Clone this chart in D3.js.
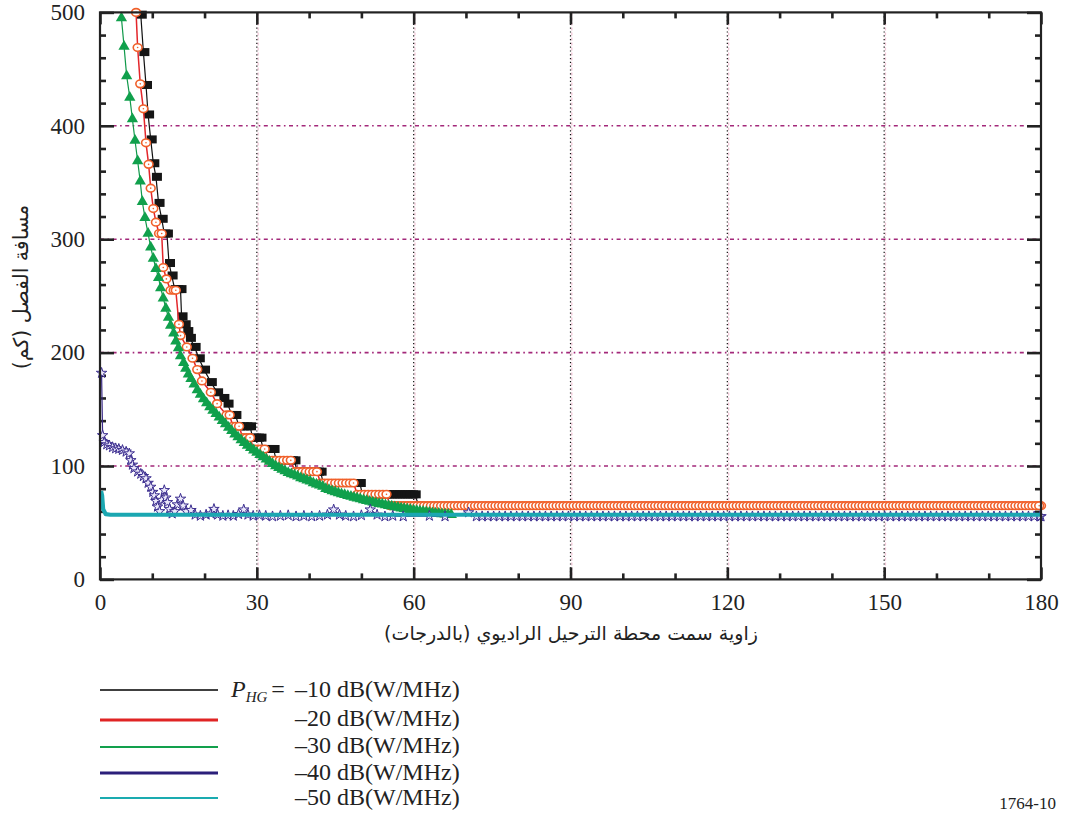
<!DOCTYPE html>
<html><head><meta charset="utf-8">
<script src="https://cdn.jsdelivr.net/npm/d3@7"></script>
<style>body{margin:0;background:#fff} svg{display:block}</style>
</head><body>
<svg id="c" width="1067" height="817"></svg>
<script>
// ---------------- DATA ----------------
const xTicks = [0, 30, 60, 90, 120, 150, 180];
const xMinorTicks = [10, 20, 40, 50, 70, 80, 100, 110, 130, 140, 160, 170];
const yTicks = [0, 100, 200, 300, 400, 500];
const yMinorTicks = [20, 40, 60, 80, 120, 140, 160, 180, 220, 240, 260, 280, 320, 340, 360, 380, 420, 440, 460, 480];
const xGridValues = [30, 60, 90, 120, 150];
const yGridValues = [100, 200, 300, 400];

const xTitle = "زاوية سمت محطة الترحيل الراديوي (بالدرجات)";
const yTitle = "مسافة الفصل (كم)";
const legendLabels = ["–10 dB(W/MHz)", "–20 dB(W/MHz)", "–30 dB(W/MHz)", "–40 dB(W/MHz)", "–50 dB(W/MHz)"];
const figureId = "1764-10";

// P_HG = -10 dB(W/MHz)  [angle (deg), separation distance (km)]
const seriesM10 = [
  [7.8,498],[8.3,465],[8.8,436],[9.2,410],[9.7,388],[10.2,367],[10.7,355],[11.2,332],[11.8,318],
  [12.3,305],[12.8,305],[13.2,279],[13.7,268],[14.3,256],[14.8,256],[15.4,256],[15.6,232],[16.2,225],
  [16.7,219],[17.2,213],[18.1,205],[18.9,195],[19.9,185],[21.2,174],[22.4,165],[23.6,160],[24.4,155],
  [25.2,145],[25.9,145],[26.6,135],[27.3,135],[28,135],[28.7,135],[29.2,125],[29.7,125],[30.2,125],
  [30.7,125],[31.2,115],[31.7,115],[32.2,115],[32.7,115],[33.2,115],[33.7,105],[34.2,105],[34.7,105],
  [35.2,105],[35.7,105],[36.2,105],[36.7,105],[37.2,105],[37.7,95],[38.2,95],[38.7,95],[39.2,95],
  [39.7,95],[40.2,95],[40.7,95],[41.2,95],[41.7,95],[42.2,95],[42.7,85],[43.2,85],[43.7,85],[44.2,85],
  [44.7,85],[45.2,85],[45.7,85],[46.2,85],[46.7,85],[47.2,85],[47.7,85],[48.2,85],[48.7,85],[49.2,85],
  [49.7,85],[50.2,75],[50.7,75],[51.2,75],[51.7,75],[52.2,75],[52.7,75],[53.2,75],[53.7,75],[54.2,75],
  [54.7,75],[55.2,75],[55.7,75],[56.2,75],[56.7,75],[57.2,75],[57.7,75],[58.2,75],[58.7,75],[59.2,75],
  [59.7,75],[60.2,75],[61,65],[180,65]
];
// P_HG = -20 dB(W/MHz)
const seriesM20 = [
  [6.9,500],[7.2,469],[7.7,437],[8.3,415],[8.8,385],[9.3,366],[9.7,345],[10.2,327],[10.7,315],
  [11.3,305],[11.8,305],[12.1,275],[12.7,265],[13.5,255],[14.1,255],[14.5,255],[15.1,225],[15.4,215],
  [16.6,205],[17.7,195],[18.6,185],[19.5,175],[21.2,165],[22.4,155],[24.2,145],[24.8,145],[25.4,135],
  [26,135],[26.6,135],[27.3,125],[28,125],[28.7,125],[29.4,115],[30.1,115],[30.8,115],[31.5,115],
  [32.3,105],[33,105],[33.7,105],[34.4,105],[35.1,105],[35.8,105],[36.5,105],[37.3,95],[38,95],
  [38.7,95],[39.4,95],[40.1,95],[40.8,95],[41.5,95],[42.2,85],[42.9,85],[43.6,85],[44.3,85],[45,85],
  [45.7,85],[46.4,85],[47.1,85],[47.8,85],[48.5,85],[49.2,75],[49.9,75],[50.6,75],[51.3,75],[52,75],
  [52.7,75],[53.4,75],[54.1,75],[54.8,75],[55.5,65],[180,65]
];
// P_HG = -30 dB(W/MHz)
const seriesM30 = [
  [4.1,495],[4.6,470],[5.1,444],[5.7,425],[6.2,406],[6.7,387],[7.2,369],[7.7,351],[8.1,333],[8.6,319],
  [9.2,305],[9.7,293],[10.2,283],[10.7,274],[11.2,266],[11.6,257],[12.1,248],[12.6,239],[13.1,231],
  [13.5,224],[14.1,217],[14.5,210],[15,204],[15.4,197],[16,191],[16.4,186],[16.9,181],[17.4,177],
  [18,172],[18.6,167],[19.2,163],[19.8,159],[20.4,155.5],[21,152],[21.6,149],[22.2,146],[22.8,143],
  [23.4,140],[24,137],[24.6,134],[25.2,131],[25.8,128],[26.4,125.5],[27,123],[27.6,120.5],[28.2,118],
  [28.8,116],[29.4,114],[30,112],[30.6,110],[31.2,108],[31.8,106],[32.4,104],[33,102],[33.6,100],
  [34.2,98.5],[34.8,97],[35.4,95.5],[36,94],[36.6,93],[37.2,92],[37.8,91],[38.4,89.5],[39,88.5],
  [39.6,87.5],[40.2,86.5],[40.8,85],[41.4,84],[42,83],[42.6,82],[43.2,80],[43.8,79],[44.4,78],[45,77],
  [45.6,76.2],[46.2,75.4],[46.8,74.6],[47.4,73.8],[48,73],[48.6,72.3],[49.2,71.6],[49.8,70.8],[50.4,70],
  [51,69.3],[51.6,68.6],[52.2,68],[52.8,67.4],[53.4,66.8],[54,66.2],[54.6,65.6],[55.2,65],[55.8,64.4],
  [56.4,63.8],[57,63.3],[57.6,62.8],[58.2,62.3],[58.8,61.8],[59.4,61.4],[60,61],[60.6,60.6],[61.2,60.2],
  [61.8,59.8],[62.4,59.4],[63,59],[63.6,58.6],[64.2,58.3],[64.8,58],[65.4,57.7],[66,57.4],[66.6,57.2],
  [67.2,57],[180,57]
];
// P_HG = -40 dB(W/MHz)
const seriesM40 = [
  [0.3,182],[0.5,127],[0.8,121],[1.3,119],[1.8,118],[2.4,116.5],[3,115.5],[3.6,115],[4.3,114],[5,112.5],
  [5.6,111],[5.9,105],[6.2,101],[6.5,98],[7.2,95],[7.8,93],[8.3,91],[8.8,89],[9.2,85],[9.7,81.5],
  [10.1,77],[10.4,74],[10.7,69],[11,64],[11.4,60],[11.8,70],[12.3,78.6],[12.6,72],[12.9,68],[13.3,62],
  [13.8,58],[14.3,60],[14.8,66],[15.4,71],[15.9,65],[16.5,60],[17.4,61],[18.2,57],[19.2,56],[20.3,57],
  [21.2,58],[21.8,62],[22.5,57],[23.5,56],[24.5,56.5],[25.5,56],[26.5,57.5],[27.5,61.5],[28.3,57],
  [29.3,56],[30.5,56.5],[31.7,56],[33,55.5],[34.5,56],[36,56.5],[37.5,55.5],[39,56],[40.5,55.5],[42,56],
  [43.5,57],[44.7,61.5],[45.8,57],[47,56],[48.5,55.5],[50,56.5],[51.7,61.5],[53,57],[54.5,55.5],[56,56],
  [58,55.5],[63,56],[66,55.5],[70.5,59],[72,55.5],[180,55.5]
];
// P_HG = -50 dB(W/MHz)
const seriesM50 = [
  [0.2,78],[0.4,74],[0.6,62],[1.1,57.5],[2,57],[180,57]
];

// ---------------- CHART ----------------
const svg = d3.select("#c");
const x = d3.scaleLinear().domain([0, 180]).range([100, 1041]);
const y = d3.scaleLinear().domain([0, 500]).range([579.4, 12.4]);
const serif = "'Liberation Serif','Times New Roman',serif";
const arabicFont = "'DejaVu Sans','Noto Sans',sans-serif";

// grid
const grid = svg.append("g");
xGridValues.forEach(v => {
  grid.append("line").attr("x1", x(v) + 1.3).attr("x2", x(v) + 1.3).attr("y1", y(500)).attr("y2", y(0))
    .attr("stroke", "#f0c6d6").attr("stroke-width", 1.3).attr("stroke-dasharray", "3,2");
  grid.append("line").attr("x1", x(v)).attr("x2", x(v)).attr("y1", y(500)).attr("y2", y(0))
    .attr("stroke", "#111").attr("stroke-width", 1.2).attr("stroke-dasharray", "1.2,2.6");
});
yGridValues.forEach(v => {
  grid.append("line").attr("x1", x(0)).attr("x2", x(180)).attr("y1", y(v)).attr("y2", y(v))
    .attr("stroke", "#a3287a").attr("stroke-width", 1.6).attr("stroke-dasharray", "4,3.5,1.6,3.5");
});

// axes (ticks inside)
function styleAxis(g) {
  g.select(".domain").remove();
  g.selectAll(".tick line").attr("stroke", "#222").attr("stroke-width", 2.6);
  g.selectAll(".tick text").attr("font-family", serif).attr("font-size", 23).attr("fill", "#222");
}
svg.append("g").attr("transform", `translate(0,${y(0)})`)
  .call(d3.axisBottom(x).tickValues(xTicks).tickSizeInner(-12).tickSizeOuter(0).tickPadding(14).tickFormat(d3.format("d")))
  .call(styleAxis);
svg.append("g").attr("transform", `translate(0,${y(0)})`)
  .call(d3.axisBottom(x).tickValues(xMinorTicks).tickSize(-6).tickFormat(""))
  .call(styleAxis);
svg.append("g").attr("transform", `translate(0,${y(500)})`)
  .call(d3.axisTop(x).tickValues(xTicks).tickSize(-12).tickFormat(""))
  .call(styleAxis);
svg.append("g").attr("transform", `translate(0,${y(500)})`)
  .call(d3.axisTop(x).tickValues(xMinorTicks).tickSize(-6).tickFormat(""))
  .call(styleAxis);
svg.append("g").attr("transform", `translate(${x(0)},0)`)
  .call(d3.axisLeft(y).tickValues(yTicks).tickSizeInner(-14).tickSizeOuter(0).tickPadding(15).tickFormat(d3.format("d")))
  .call(styleAxis);
svg.append("g").attr("transform", `translate(${x(0)},0)`)
  .call(d3.axisLeft(y).tickValues(yMinorTicks).tickSize(-6).tickFormat(""))
  .call(styleAxis);
svg.append("g").attr("transform", `translate(${x(180)},0)`)
  .call(d3.axisRight(y).tickValues(yTicks).tickSize(-14).tickFormat(""))
  .call(styleAxis);
svg.append("g").attr("transform", `translate(${x(180)},0)`)
  .call(d3.axisRight(y).tickValues(yMinorTicks).tickSize(-6).tickFormat(""))
  .call(styleAxis);

// series
const line = d3.line().x(d => x(d[0])).y(d => y(d[1]));
const series = [
  { data: seriesM10, color: "#111", width: 1.2, marker: "square", markerUntil: 61, tailStep: 0 },
  { data: seriesM20, color: "#e3262b", width: 1.5, marker: "circle", markerUntil: 180, tailStep: 0.65 },
  { data: seriesM30, color: "#10994a", width: 1.2, marker: "triangle", markerUntil: 67.2, tailStep: 0 },
  { data: seriesM40, color: "#3a2a88", width: 1.2, marker: "star", markerUntil: 180, tailStep: 1.1 },
  { data: seriesM50, color: "#1ba7b1", width: 4.2, marker: "none", markerUntil: 0, tailStep: 0 }
];

series.forEach(s => {
  const g = svg.append("g");
  g.append("path").datum(s.data).attr("d", line).attr("fill", "none")
    .attr("stroke", s.color).attr("stroke-width", s.width).attr("stroke-linejoin", "round");
  if (s.marker === "none") return;
  // marker positions: each data point, plus spacing along long flat segments (visual density only)
  let pts = s.data.filter(d => d[0] <= s.markerUntil);
  if (s.tailStep > 0) {
    const extra = [];
    for (let i = 1; i < s.data.length; i++) {
      const a = s.data[i - 1], b = s.data[i];
      if (a[1] === b[1] && b[0] - a[0] > 2 * s.tailStep) {
        for (let t = a[0] + s.tailStep; t < b[0]; t += s.tailStep) extra.push([t, a[1]]);
      }
    }
    pts = pts.concat(extra);
  }
  const mk = g.selectAll("g.m").data(pts).join("g").attr("class", "m")
    .attr("transform", d => `translate(${x(d[0])},${y(d[1])})`);
  if (s.marker === "square") {
    mk.append("rect").attr("x", -4).attr("y", -4).attr("width", 10).attr("height", 8).attr("fill", "#151515");
  } else if (s.marker === "circle") {
    mk.append("ellipse").attr("rx", 4.4).attr("ry", 3.8).attr("fill", "#fff")
      .attr("stroke", "#f0602a").attr("stroke-width", 1.6);
    mk.append("circle").attr("r", 0.8).attr("fill", "#f0602a");
  } else if (s.marker === "triangle") {
    mk.append("path").attr("d", d3.symbol(d3.symbolTriangle, 55)).attr("fill", "#10a04c");
  } else if (s.marker === "star") {
    mk.append("path").attr("d", d3.symbol(d3.symbolStar, 34)).attr("fill", "#ebe8fa")
      .attr("stroke", "#3b2d8f").attr("stroke-width", 1);
  }
});

// frame
svg.append("rect").attr("x", x(0)).attr("y", y(500)).attr("width", x(180) - x(0)).attr("height", y(0) - y(500))
  .attr("fill", "none").attr("stroke", "#222").attr("stroke-width", 2.2);

// axis titles
svg.append("text").attr("x", 571).attr("y", 640).attr("text-anchor", "middle")
  .attr("font-family", arabicFont).attr("font-size", 19).attr("fill", "#222").text(xTitle);
svg.append("text").attr("transform", "translate(28,287) rotate(-90)").attr("text-anchor", "middle")
  .attr("font-family", arabicFont).attr("font-size", 20.5).attr("fill", "#222").text(yTitle);

// legend
const legendColors = ["#000", "#e02424", "#12a04c", "#2b1f7a", "#1aabb0"];
const legendWidths = [1.6, 3, 2.2, 3, 2.2];
const legendLineY = [690, 720, 747, 773, 798];
const legendTextY = [697, 726, 753, 780, 805];
legendLabels.forEach((lab, i) => {
  svg.append("line").attr("x1", 100).attr("x2", 218).attr("y1", legendLineY[i]).attr("y2", legendLineY[i])
    .attr("stroke", legendColors[i]).attr("stroke-width", legendWidths[i]);
  svg.append("text").attr("x", 295).attr("y", legendTextY[i]).attr("font-family", serif)
    .attr("font-size", 24).attr("fill", "#222").text(lab);
});
const ph = svg.append("text").attr("x", 231).attr("y", legendTextY[0]).attr("font-family", serif)
  .attr("font-size", 24).attr("fill", "#222");
ph.append("tspan").attr("font-style", "italic").text("P");
ph.append("tspan").attr("font-style", "italic").attr("font-size", 15).attr("dy", 5).text("HG");
ph.append("tspan").attr("dy", -5).attr("dx", 4).text("=");

svg.append("text").attr("x", 1056).attr("y", 809).attr("text-anchor", "end")
  .attr("font-family", serif).attr("font-size", 17).attr("fill", "#222").text(figureId);
</script>
</body></html>
